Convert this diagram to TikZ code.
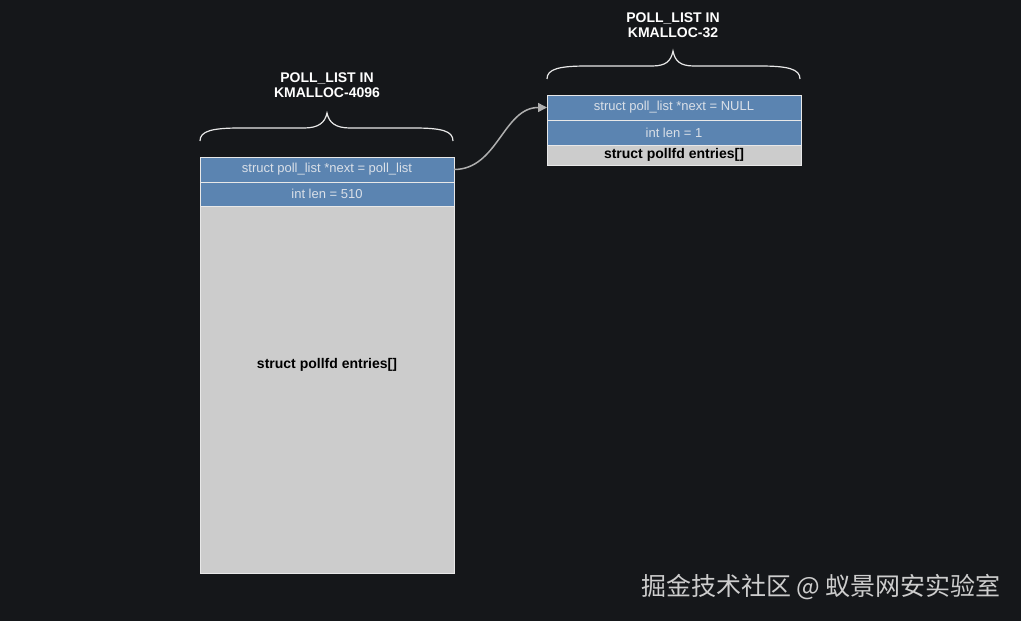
\documentclass[tikz,border=0pt]{standalone}
\usepackage{fontspec}
\setmainfont{Liberation Sans}
\newfontfamily\cjkfont{Noto Sans CJK SC}
\usetikzlibrary{arrows.meta,positioning}
\definecolor{bgColor}{RGB}{21,23,26}
\definecolor{fieldColor}{RGB}{91,132,177}
\definecolor{fieldText}{RGB}{218,224,232}
\definecolor{entriesColor}{RGB}{204,204,204}
\definecolor{lineColor}{RGB}{232,232,232}
\definecolor{linkColor}{RGB}{175,175,175}
\definecolor{markColor}{RGB}{205,205,205}
\tikzset{field/.style={draw=lineColor, fill=fieldColor, text=fieldText, minimum width=254pt, minimum height=25pt, inner sep=0pt, outer sep=0pt, font=\fontsize{13}{15}\selectfont}}
\tikzset{entries/.style={field, fill=entriesColor, text=black, font=\bfseries\fontsize{14}{16}\selectfont}}
\tikzset{title/.style={text=white, align=center, font=\bfseries\fontsize{14}{15.5}\selectfont}}
\tikzset{curly/.style={draw=lineColor, line width=1.2pt}}
\tikzset{link/.style={draw=linkColor, line width=1.5pt, -{Triangle[length=9pt,width=9pt]}}}

\begin{document}
\begin{tikzpicture}[x=1pt,y=-1pt]
\fill[bgColor] (0,0) rectangle (1021,621);
\useasboundingbox (0,0) rectangle (1021,621);

% kmalloc-4096 object
\node (LeftEntries) [entries, minimum height=416pt, anchor=north west] at (200,157) {struct pollfd entries[]};
\node (LeftNext) [field, anchor=north] at (LeftEntries.north) {struct poll\_list *next = poll\_list};
\node (LeftLen) [field, minimum height=24pt, below=0pt of LeftNext] {int len = 510};

% kmalloc-32 object
\node (RightNext) [field, anchor=north west] at (547,95) {struct poll\_list *next = NULL};
\node (RightLen) [field, below=0pt of RightNext] {int len = 1};
\node (RightEntries) [entries, minimum height=20pt, below=0pt of RightLen] {struct pollfd entries[]};

% Titles
\node (LeftTitle) [title] at (327,85) {POLL\_LIST IN\\KMALLOC-4096};
\node (RightTitle) [title] at (673,25) {POLL\_LIST IN\\KMALLOC-32};

% Braces
\draw[curly] (200,141) .. controls (200,131) and (212,128) .. (240,128) -- (304,128)
  .. controls (318,128) and (325,123) .. (327,113) .. controls (329,123) and (336,128) .. (350,128)
  -- (414,128) .. controls (442,128) and (453,131) .. (453,141);
\draw[curly] (547,79) .. controls (547,69) and (559,66) .. (587,66) -- (652,66)
  .. controls (666,66) and (671,61) .. (673,51) .. controls (675,61) and (680,66) .. (694,66)
  -- (760,66) .. controls (788,66) and (800,69) .. (800,79);

% Connector
\draw[link] (LeftNext.east) to[out=0,in=180] (RightNext.west);

% Watermark
\node (Mark) [text=markColor, font=\cjkfont\fontsize{25}{29}\selectfont] at (821,587) {掘金技术社区 @ 蚁景网安实验室};

\end{tikzpicture}
\end{document}
